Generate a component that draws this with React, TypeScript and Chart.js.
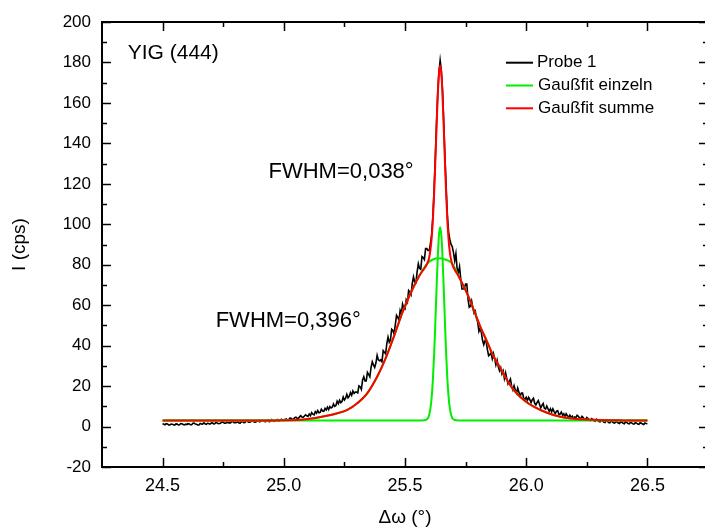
import React, { useEffect, useRef } from "react";
import { Chart, registerables } from "chart.js";

Chart.register(...registerables);

// ---------- data ----------
const probeStart = 24.5;
const probeStep = 0.005;
const probeY = [
  1.5, 1.1, 0.9, 1.4, 1.3, 0.8, 0.8, 1.2, 1.1, 0.9, 0.7, 1.3, 1.2, 0.8, 0.9, 1.5, 1.4, 1.0, 0.8, 1.2,
  1.0, 1.4, 1.3, 0.9, 0.9, 1.6, 1.7, 1.2, 1.1, 0.8, 0.8, 1.5, 1.3, 1.2, 1.8, 1.4, 1.1, 1.6, 1.5, 1.2,
  1.6, 1.9, 1.3, 1.4, 2.0, 1.8, 1.4, 1.5, 1.7, 2.3, 2.2, 1.6, 1.6, 2.1, 1.9, 1.8, 1.8, 2.4, 2.5, 1.9,
  1.9, 2.0, 2.3, 1.8, 1.7, 2.4, 2.4, 1.9, 2.0, 2.7, 2.6, 2.1, 2.1, 2.4, 3.0, 2.5, 2.2, 2.3, 2.7, 2.9,
  2.3, 2.6, 3.1, 2.8, 2.5, 2.4, 2.9, 3.2, 2.4, 2.7, 3.4, 3.0, 2.6, 2.8, 3.2, 3.5, 2.8, 3.1, 3.6, 3.3,
  3.0, 3.5, 3.8, 3.2, 3.3, 4.2, 4.1, 3.6, 3.6, 4.4, 4.6, 4.1, 3.9, 4.8, 5.4, 4.7, 4.5, 5.2, 5.8, 5.3,
  5.0, 6.2, 5.4, 6.9, 6.1, 5.8, 7.4, 6.6, 7.9, 6.8, 7.0, 8.6, 7.7, 7.5, 9.0, 8.2, 9.6, 8.4, 9.9, 9.2,
  9.6, 11.2, 10.0, 10.4, 12.5, 11.3, 13.0, 11.8, 12.4, 14.6, 13.1, 14.0, 15.9, 14.2, 15.0, 16.8, 15.5, 17.6, 16.4, 17.0,
  17.0, 16.6, 20.1, 19.7, 18.4, 23.0, 24.6, 22.5, 22.5, 26.8, 25.8, 24.6, 29.2, 32.0, 30.5, 29.2, 31.4, 35.2, 33.0, 32.5,
  33.0, 32.0, 37.5, 36.7, 36.0, 41.0, 44.2, 41.7, 42.8, 48.1, 47.5, 45.7, 50.4, 55.0, 54.0, 52.5, 57.4, 55.8, 60.5, 58.4,
  58.0, 62.7, 61.5, 67.3, 66.6, 65.3, 70.8, 74.0, 71.5, 71.1, 76.5, 80.5, 78.2, 77.7, 84.0, 83.5, 82.5, 88.0, 88.0, 87.0,
  87.0, 90.5, 95.0, 104.0, 117.0, 133.0, 150.0, 165.0, 175.0, 181.0, 176.0, 166.0, 150.0, 133.0, 118.0, 104.0, 96.0, 92.5, 90.0, 89.0,
  86.0, 82.0, 85.5, 78.0, 76.0, 79.0, 73.0, 68.0, 68.0, 68.5, 70.5, 70.5, 63.0, 59.0, 59.5, 62.0, 58.5, 56.0, 57.0, 53.5,
  51.5, 47.0, 48.5, 46.5, 42.5, 40.5, 42.5, 42.0, 38.0, 35.0, 35.5, 36.5, 33.5, 36.0, 33.5, 30.5, 32.8, 29.5, 27.5, 29.0,
  26.0, 27.5, 23.8, 26.5, 23.6, 21.1, 22.3, 23.5, 19.8, 18.1, 20.2, 18.0, 16.6, 19.0, 17.0, 15.0, 16.5, 16.5, 13.7, 13.5,
  14.5, 12.9, 14.4, 13.3, 11.8, 13.3, 14.0, 11.5, 10.7, 11.9, 12.8, 11.0, 9.2, 10.5, 11.4, 9.0, 8.6, 10.1, 8.8, 7.5,
  8.8, 7.3, 8.8, 7.4, 6.4, 7.6, 7.8, 6.0, 6.2, 7.2, 5.6, 6.3, 4.8, 6.3, 5.4, 4.5, 5.6, 4.4, 5.1, 4.1,
  4.7, 4.4, 5.6, 5.1, 4.2, 3.9, 5.0, 4.4, 3.6, 3.4, 4.5, 4.0, 3.2, 3.0, 3.9, 3.6, 2.8, 2.6, 3.6, 3.1,
  2.5, 2.3, 3.2, 2.8, 2.2, 2.0, 3.0, 2.6, 2.0, 1.8, 2.7, 2.4, 1.9, 1.7, 2.6, 2.2, 1.7, 1.5, 2.4, 2.1,
  1.6, 1.4, 2.3, 2.0, 1.5, 1.3, 2.1, 1.8, 1.4, 1.2, 2.0, 1.7, 1.3, 1.1, 1.9, 1.6, 1.2, 1.0, 1.8, 1.5,
  1.4,
];

const narrowX = [24.5, 25.57, 25.585, 25.595, 25.6, 25.605, 25.61, 25.615, 25.62, 25.625, 25.63, 25.635, 25.64, 25.645,
  25.65, 25.655, 25.66, 25.665, 25.67, 25.675, 25.68, 25.685, 25.69, 25.695, 25.705, 25.72, 26.5];
const narrowY = [3, 3, 3.2, 4.25, 5.9, 9.0, 14.4, 23.1, 35.3, 50.8, 67.7, 83.3, 94.5, 98.5,
  94.5, 83.3, 67.7, 50.8, 35.3, 23.1, 14.4, 9.0, 5.9, 4.25, 3.2, 3, 3];

const broadX = [24.5, 24.9, 25.0, 25.083, 25.193, 25.262, 25.303, 25.344, 25.385, 25.42, 25.454, 25.488, 25.523, 25.557,
  25.592, 25.615, 25.64, 25.665, 25.694, 25.729, 25.756, 25.784, 25.811, 25.839, 25.866, 25.894, 25.921, 25.949,
  25.99, 26.031, 26.086, 26.141, 26.196, 26.306, 26.4, 26.5];
const broadY = [3, 3, 3.1, 3.5, 5.7, 8.2, 11.5, 16.4, 24.6, 33.7, 44.4, 56.0, 65.9, 74.1,
  80.7, 82.6, 83.2, 82.6, 80.7, 72.4, 65.8, 57.6, 49.3, 41.9, 34.5, 28.8, 23.0, 18.0,
  13.1, 9.8, 6.8, 4.8, 3.9, 3.2, 3.05, 3];

const sumX = [24.5, 24.9, 25.0, 25.083, 25.193, 25.262, 25.303, 25.344, 25.385, 25.42, 25.454, 25.488, 25.523, 25.557,
  25.57, 25.585, 25.595, 25.6, 25.605, 25.61, 25.615, 25.62, 25.625, 25.63, 25.635, 25.64, 25.645, 25.65, 25.655,
  25.66, 25.665, 25.67, 25.675, 25.68, 25.685, 25.69, 25.695, 25.705, 25.72,
  25.756, 25.784, 25.811, 25.839, 25.866, 25.894, 25.921, 25.949, 25.99, 26.031, 26.086, 26.141, 26.196, 26.306, 26.4, 26.5];
const sumY = [3, 3, 3.1, 3.5, 5.7, 8.2, 11.5, 16.4, 24.6, 33.7, 44.4, 56.0, 65.9, 74.1,
  76.5, 79.1, 81.5, 83.7, 87.3, 93.2, 102.2, 114.7, 130.5, 147.6, 163.3, 174.5, 178.5, 174.4, 163.0,
  147.1, 129.9, 114.1, 101.4, 92.2, 86.2, 82.5, 80.2, 77.5, 74.6,
  65.8, 57.6, 49.3, 41.9, 34.5, 28.8, 23.0, 18.0, 13.1, 9.8, 6.8, 4.8, 3.9, 3.2, 3.05, 3];

const xTicks = [24.5, 25.0, 25.5, 26.0, 26.5];
const xMinorTicks = [24.75, 25.25, 25.75, 26.25];
const yTicks = [-20, 0, 20, 40, 60, 80, 100, 120, 140, 160, 180, 200];
const yMinorTicks = [-10, 10, 30, 50, 70, 90, 110, 130, 150, 170, 190];

const legendLabels = ["Probe 1", "Gaußfit einzeln", "Gaußfit summe"];
const legendColors = ["#000000", "#00ee00", "#ff0000"];
const annotations = [
  { text: "YIG (444)", x: 24.356, y: 184.5, size: 21 },
  { text: "FWHM=0,038°", x: 24.937, y: 125.7, size: 22 },
  { text: "FWHM=0,396°", x: 24.719, y: 52.4, size: 22 },
];

const FONT = '"Liberation Sans", Arial, Helvetica, sans-serif';

function zip(xs: number[], ys: number[]) {
  return xs.map((x, i) => ({ x, y: ys[i] }));
}

const framePlugin = {
  id: "frameTicks",
  afterDraw(chart: any) {
    const { ctx, chartArea: a, scales } = chart;
    const xs = scales.x;
    const ys = scales.y;
    ctx.save();
    ctx.strokeStyle = "#000";
    ctx.lineWidth = 2;
    ctx.strokeRect(a.left, a.top, a.right - a.left, a.bottom - a.top);
    ctx.lineWidth = 1.5;
    ctx.beginPath();
    const xt = (vals: number[], len: number) => {
      for (const v of vals) {
        const p = Math.round(xs.getPixelForValue(v)) + 0.5;
        ctx.moveTo(p, a.bottom);
        ctx.lineTo(p, a.bottom - len);
        ctx.moveTo(p, a.top);
        ctx.lineTo(p, a.top + len);
      }
    };
    const yt = (vals: number[], len: number) => {
      for (const v of vals) {
        const p = Math.round(ys.getPixelForValue(v)) + 0.5;
        ctx.moveTo(a.left, p);
        ctx.lineTo(a.left + len, p);
        ctx.moveTo(a.right, p);
        ctx.lineTo(a.right - len, p);
      }
    };
    xt(xTicks, 9);
    xt(xMinorTicks, 5);
    yt(yTicks, 9);
    yt(yMinorTicks, 5);
    ctx.stroke();

    // annotations
    ctx.fillStyle = "#000";
    ctx.textAlign = "left";
    ctx.textBaseline = "middle";
    for (const an of annotations) {
      ctx.font = `${an.size}px ${FONT}`;
      ctx.fillText(an.text, xs.getPixelForValue(an.x), ys.getPixelForValue(an.y));
    }

    // legend
    const lx0 = 506, lx1 = 533, tx = 537, ly0 = 62.7, dy = 22.8;
    ctx.font = `17px ${FONT}`;
    legendLabels.forEach((lab, i) => {
      const y = ly0 + i * dy;
      ctx.strokeStyle = legendColors[i];
      ctx.lineWidth = 2;
      ctx.beginPath();
      ctx.moveTo(lx0, y);
      ctx.lineTo(lx1, y);
      ctx.stroke();
      ctx.fillStyle = "#000";
      ctx.fillText(lab, tx + (i === 0 ? 0 : 1), y);
    });
    ctx.restore();
  },
};

export default function App() {
  const ref = useRef<HTMLCanvasElement | null>(null);
  useEffect(() => {
    if (!ref.current) return;
    const probeData = probeY.map((y, i) => ({ x: +(probeStart + i * probeStep).toFixed(3), y }));
    const chart = new Chart(ref.current, {
      type: "line",
      data: {
        datasets: [
          {
            label: legendLabels[2],
            data: zip(sumX, sumY),
            borderColor: legendColors[2],
            borderWidth: 2,
            pointRadius: 0,
            cubicInterpolationMode: "monotone",
            order: 1,
          },
          {
            label: legendLabels[1],
            data: zip(narrowX, narrowY),
            borderColor: legendColors[1],
            borderWidth: 2,
            pointRadius: 0,
            cubicInterpolationMode: "monotone",
            order: 2,
          },
          {
            label: legendLabels[1] + " 2",
            data: zip(broadX, broadY),
            borderColor: legendColors[1],
            borderWidth: 2,
            pointRadius: 0,
            cubicInterpolationMode: "monotone",
            order: 2,
          },
          {
            label: legendLabels[0],
            data: probeData,
            borderColor: legendColors[0],
            borderWidth: 1.6,
            pointRadius: 0,
            tension: 0,
            order: 3,
          },
        ],
      },
      options: {
        animation: false,
        responsive: false,
        devicePixelRatio: 1,
        layout: { padding: { top: 22, right: 4, left: 0, bottom: 0 } },
        plugins: { legend: { display: false }, tooltip: { enabled: false } },
        scales: {
          x: {
            type: "linear",
            min: 24.25,
            max: 26.75,
            grid: { display: false, drawTicks: false },
            border: { display: false },
            afterBuildTicks: (s: any) => {
              s.ticks = xTicks.map((v) => ({ value: v }));
            },
            afterFit: (s: any) => {
              s.height = 62;
            },
            ticks: {
              color: "#000",
              padding: 8,
              maxRotation: 0,
              font: { family: FONT, size: 18 },
              callback: (v: any) => Number(v).toFixed(1),
            },
            title: {
              display: true,
              text: "Δω (°)",
              color: "#000",
              font: { family: FONT, size: 19 },
              padding: { top: 0, bottom: 0 },
            },
          },
          y: {
            type: "linear",
            min: -20,
            max: 200,
            grid: { display: false, drawTicks: false },
            border: { display: false },
            afterBuildTicks: (s: any) => {
              s.ticks = yTicks.map((v) => ({ value: v }));
            },
            afterFit: (s: any) => {
              s.width = 102;
            },
            ticks: {
              color: "#000",
              padding: 11,
              font: { family: FONT, size: 17 },
              callback: (v: any) => String(v),
            },
            title: {
              display: true,
              text: "I (cps)",
              color: "#000",
              font: { family: FONT, size: 19 },
              padding: { top: 8.6, bottom: 0 },
            },
          },
        },
      },
      plugins: [framePlugin],
    } as any);
    return () => chart.destroy();
  }, []);
  return (
    <div style={{ position: "fixed", left: 0, top: 0, width: 712, height: 529, background: "#fff" }}>
      <canvas ref={ref} width={712} height={529} style={{ width: 712, height: 529, display: "block" }} />
    </div>
  );
}
